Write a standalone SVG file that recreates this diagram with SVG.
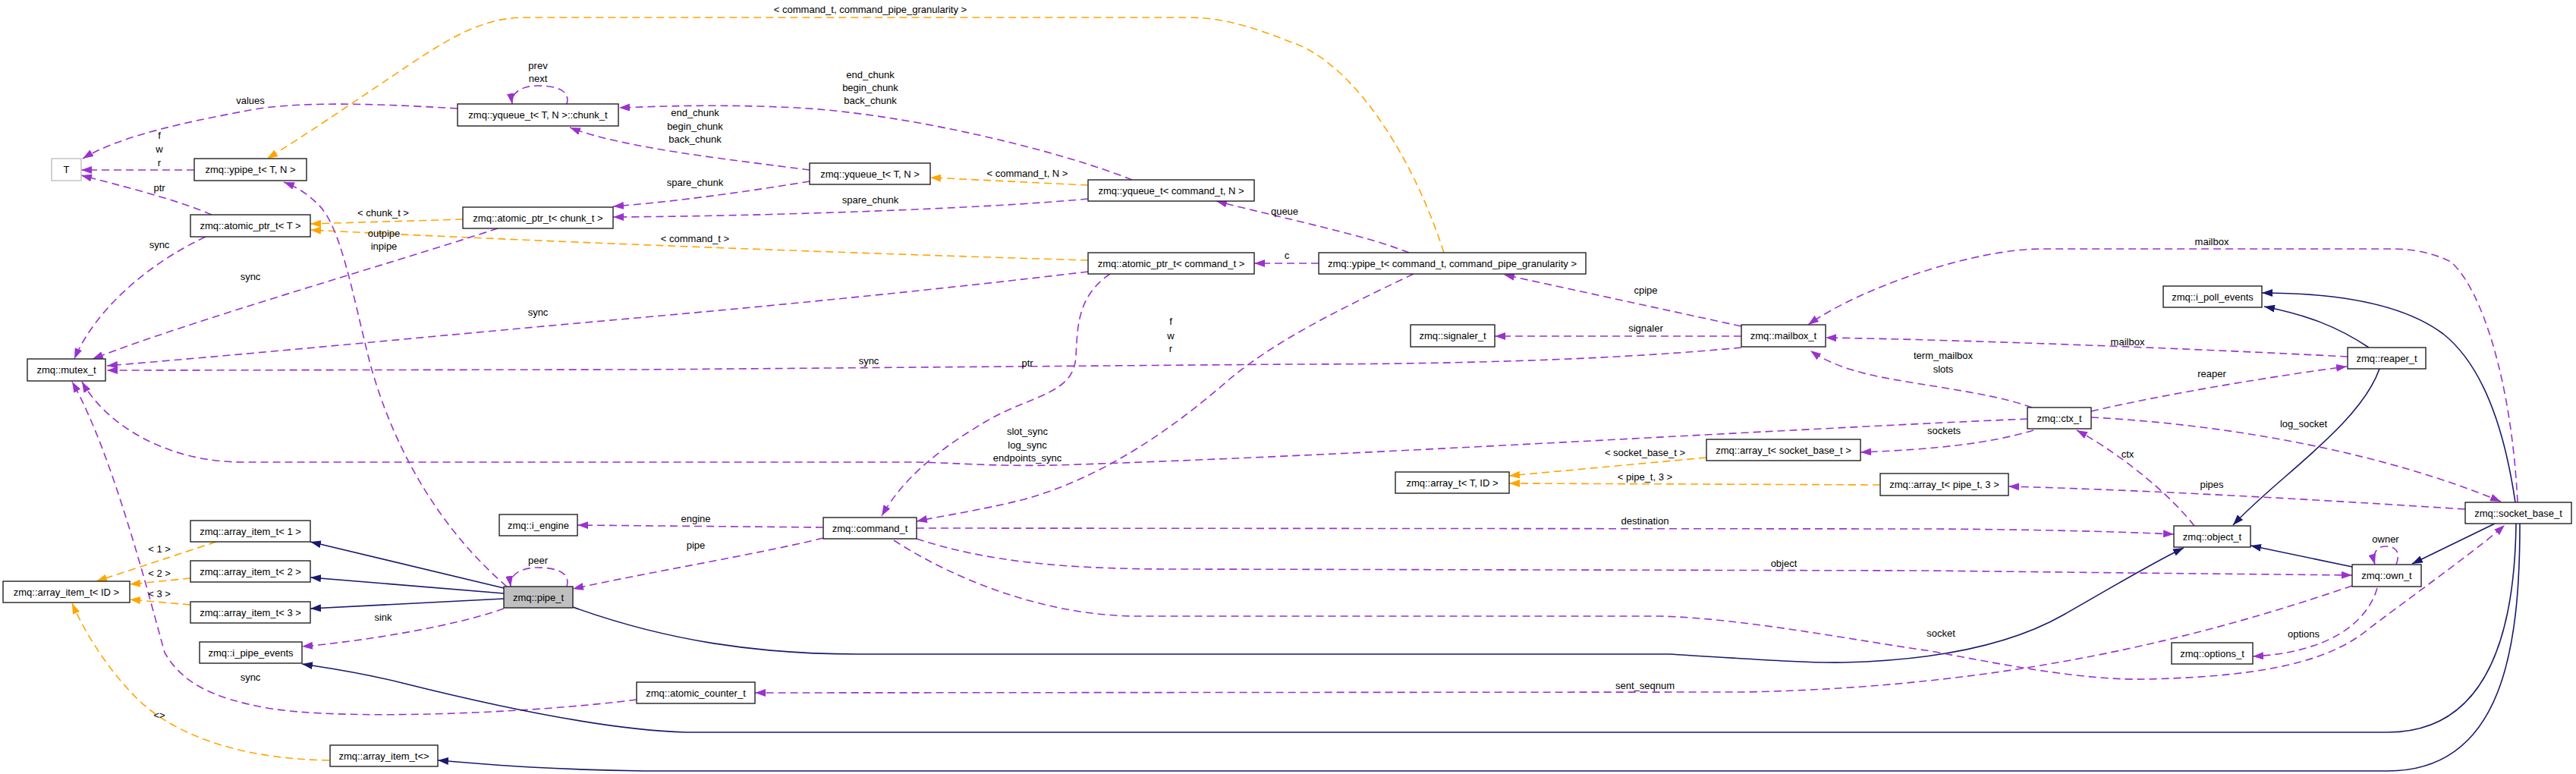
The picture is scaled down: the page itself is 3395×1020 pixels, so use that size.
<svg xmlns="http://www.w3.org/2000/svg" width="3395" height="1020" viewBox="0 0 3395 1020">
<defs>
<marker id="ap" markerUnits="userSpaceOnUse" markerWidth="14" markerHeight="10" refX="14" refY="5" orient="auto"><path d="M0,0 L14,5 L0,10 z" fill="#9a32cd"/></marker>
<marker id="ao" markerUnits="userSpaceOnUse" markerWidth="14" markerHeight="10" refX="14" refY="5" orient="auto"><path d="M0,0 L14,5 L0,10 z" fill="#ffa500"/></marker>
<marker id="ab" markerUnits="userSpaceOnUse" markerWidth="14" markerHeight="10" refX="14" refY="5" orient="auto"><path d="M0,0 L14,5 L0,10 z" fill="#191970"/></marker>
<style>
text{font-family:"Liberation Sans",Arial,sans-serif;font-size:13px;text-anchor:middle;fill:#000}
.n rect{fill:#fff;stroke:#222;stroke-width:1.4}
.p{fill:none;stroke:#9a32cd;stroke-width:1.6;stroke-dasharray:10,6;marker-end:url(#ap)}
.o{fill:none;stroke:#ffa500;stroke-width:1.6;stroke-dasharray:10,6;marker-end:url(#ao)}
.b{fill:none;stroke:#191970;stroke-width:1.6;marker-end:url(#ab)}
</style>
</defs>
<rect width="3395" height="1020" fill="#fff"/>
<g id="connectors">
<path class="p" d="M603,143 C520,138 400,132 330,145 C250,160 160,178 109,209"/>
<text x="330" y="137">values</text>
<path class="p" d="M256,224 L107,224"/>
<text x="210" y="183">f</text><text x="210" y="201">w</text><text x="210" y="219">r</text>
<path class="p" d="M279,283 C230,262 160,245 107,231"/>
<text x="210" y="252">ptr</text>
<path class="p" d="M747,137 C752,120 735,113 709,113 C685,113 673,124 675,137"/>
<text x="709" y="91">prev</text><text x="709" y="108">next</text>
<path class="o" d="M1903,333 C1860,200 1780,80 1700,55 C1650,35 1610,23 1566,23 L694,23 C640,23 600,45 540,85 S400,180 352,209"/>
<text x="1147" y="17">&lt; command_t, command_pipe_granularity &gt;</text>
<path class="p" d="M1067,224 C960,210 820,195 751,168"/>
<text x="916" y="153">end_chunk</text><text x="916" y="171">begin_chunk</text><text x="916" y="188">back_chunk</text>
<path class="p" d="M1492,237 C1400,200 1200,150 1050,142 C950,137 870,140 816,142"/>
<text x="1147" y="103">end_chunk</text><text x="1147" y="120">begin_chunk</text><text x="1147" y="137">back_chunk</text>
<path class="p" d="M1067,239 C1000,250 900,265 808,272"/>
<text x="916" y="245">spare_chunk</text>
<path class="p" d="M1434,262 C1300,275 1000,285 808,286"/>
<text x="1147" y="268">spare_chunk</text>
<path class="o" d="M1434,244 L1226,234"/>
<text x="1354" y="233">&lt; command_t, N &gt;</text>
<path class="o" d="M610,289 L409,295"/>
<text x="505" y="285">&lt; chunk_t &gt;</text>
<path class="o" d="M1434,343 C1100,333 700,318 409,303"/>
<text x="916" y="319">&lt; command_t &gt;</text>
<path class="p" d="M271,312 C180,355 120,420 98,473"/>
<text x="210" y="327">sync</text>
<path class="p" d="M656,301 C500,352 260,420 122,473"/>
<text x="330" y="369">sync</text>
<path class="p" d="M1434,358 C1250,380 1050,400 850,418 C600,440 350,465 141,482"/>
<text x="709" y="416">sync</text>
<path class="p" d="M2295,458 C2150,472 1950,480 1700,480 L850,487 L141,488"/>
<text x="1145" y="480">sync</text>
<path class="p" d="M1463,361 C1420,390 1420,430 1418,470 C1415,520 1360,520 1300,555 C1240,590 1190,630 1162,680"/>
<text x="1354" y="483">ptr</text>
<path class="p" d="M1863,361 C1760,410 1680,450 1620,500 C1540,570 1450,630 1350,658 C1290,673 1240,680 1208,687"/>
<text x="1543" y="428">f</text><text x="1543" y="447">w</text><text x="1543" y="464">r</text>
<path class="p" d="M2672,552 C2300,568 1800,600 1392,613 C1300,615 1250,609 1200,609 L320,609 C220,609 140,560 108,503"/>
<text x="1354" y="573">slot_sync</text><text x="1354" y="591">log_sync</text><text x="1354" y="608">endpoints_sync</text>
<path class="p" d="M839,922 C700,940 450,950 352,933 C280,920 240,900 217,860 C200,800 150,600 95,503"/>
<text x="330" y="897">sync</text>
<path class="p" d="M668,773 C560,680 510,560 488,480 C465,390 450,300 420,270 C405,255 390,246 374,240"/>
<text x="506" y="312">outpipe</text><text x="506" y="329">inpipe</text>
<path class="p" d="M747,773 C752,755 735,748 708,748 C685,748 671,758 673,773"/>
<text x="709" y="743">peer</text>
<path class="b" d="M664,775 L409,714"/>
<path class="b" d="M664,782 L409,761"/>
<path class="b" d="M664,789 L409,802"/>
<path class="p" d="M664,802 C600,825 480,845 398,852"/>
<text x="505" y="818">sink</text>
<path class="p" d="M1085,709 C1000,730 850,755 755,776"/>
<text x="917" y="723">pipe</text>
<path class="p" d="M1085,695 L761,692"/>
<text x="917" y="688">engine</text>
<path class="b" d="M755,800 C880,845 1000,862 1130,862 L2200,862 C2300,868 2380,874 2430,873 C2550,870 2650,850 2720,810 C2790,770 2840,740 2878,722"/>
<path class="p" d="M1208,696 L2550,697 C2700,698 2800,701 2865,704"/>
<text x="2168" y="691">destination</text>
<path class="p" d="M1208,710 C1300,740 1400,750 1550,750 L2540,752 C2800,755 3000,757 3100,758"/>
<text x="2351" y="747">object</text>
<path class="p" d="M1178,712 C1260,765 1380,812 1500,812 L2188,812 C2300,815 2450,845 2545,858 C2650,878 2750,897 2830,895 C2950,892 3060,880 3120,830 C3200,770 3270,720 3301,692"/>
<text x="2558" y="839">socket</text>
<path class="p" d="M3100,772 C2900,840 2650,905 2300,912 L995,913"/>
<text x="2168" y="908">sent_seqnum</text>
<path class="p" d="M3133,775 C3120,820 3070,860 2969,865"/>
<text x="3036" y="840">options</text>
<path class="p" d="M3158,744 C3165,725 3155,720 3144,720 C3132,720 3126,730 3130,744"/>
<text x="3144" y="715">owner</text>
<path class="b" d="M3100,747 L2966,719"/>
<path class="b" d="M3288,690 L3179,743"/>
<path class="b" d="M3136,486 C3110,560 3000,630 2943,692"/>
<path class="b" d="M3122,458 C3080,430 3040,415 2984,404"/>
<path class="b" d="M3315,662 C3300,560 3270,480 3220,440 C3160,395 3060,386 2981,386"/>
<path class="p" d="M3318,662 C3310,500 3270,380 3230,345 C3200,330 3170,328 3152,328 L2691,328 C2600,328 2450,380 2383,428"/>
<text x="2915" y="323">mailbox</text>
<path class="p" d="M3094,470 C2900,460 2600,448 2406,445"/>
<text x="2804" y="455">mailbox</text>
<path class="p" d="M2678,537 C2620,515 2500,505 2450,490 C2420,482 2400,472 2386,462"/>
<text x="2561" y="473">term_mailbox</text><text x="2561" y="491">slots</text>
<path class="p" d="M2756,542 C2850,520 3000,495 3093,483"/>
<text x="2915" y="497">reaper</text>
<path class="p" d="M2680,567 C2620,585 2550,592 2452,596"/>
<text x="2562" y="572">sockets</text>
<path class="p" d="M2892,693 C2850,640 2780,590 2737,567"/>
<text x="2804" y="603">ctx</text>
<path class="p" d="M2756,550 C2950,560 3150,600 3296,661"/>
<text x="3036" y="563">log_socket</text>
<path class="p" d="M3249,671 C3000,655 2800,645 2647,641"/>
<text x="2915" y="643">pipes</text>
<path class="o" d="M2249,603 L1989,627"/>
<text x="2168" y="601">&lt; socket_base_t &gt;</text>
<path class="o" d="M2478,639 L1989,637"/>
<text x="2168" y="633">&lt; pipe_t, 3 &gt;</text>
<path class="o" d="M285,714 L127,766"/>
<text x="210" y="728">&lt; 1 &gt;</text>
<path class="o" d="M251,762 L171,770"/>
<text x="210" y="760">&lt; 2 &gt;</text>
<path class="o" d="M251,797 L171,790"/>
<text x="210" y="787">&lt; 3 &gt;</text>
<path class="o" d="M434,1002 C300,1000 220,960 180,920 C140,880 110,830 95,795"/>
<text x="210" y="947">&lt;&gt;</text>
<path class="b" d="M3321,690 C3321,850 3300,1016 3147,1016 L850,1016 C700,1014 620,1005 577,1002"/>
<path class="b" d="M3316,690 C3314,850 3270,965 3147,965 L904,965 C800,962 650,930 530,900 C470,885 430,880 398,875"/>
<path class="p" d="M1738,347 L1653,347"/>
<text x="1696" y="341">c</text>
<path class="p" d="M1857,333 C1800,310 1700,290 1603,265"/>
<text x="1693" y="283">queue</text>
<path class="p" d="M2295,430 L1982,362"/>
<text x="2169" y="387">cpipe</text>
<path class="p" d="M2295,443 L1970,443"/>
<text x="2169" y="437">signaler</text>
</g>
<g id="T" class="n"><rect x="68" y="209" width="39" height="29" style="stroke:#bfbfbf"/><text x="87.5" y="228">T</text></g>
<g id="ypipe_T_N" class="n"><rect x="256" y="209" width="148" height="29"/><text x="330" y="228">zmq::ypipe_t&lt; T, N &gt;</text></g>
<g id="chunk_t" class="n"><rect x="603" y="137" width="212" height="29"/><text x="709" y="156">zmq::yqueue_t&lt; T, N &gt;::chunk_t</text></g>
<g id="atomic_ptr_T" class="n"><rect x="251" y="283" width="158" height="29"/><text x="330" y="302">zmq::atomic_ptr_t&lt; T &gt;</text></g>
<g id="atomic_ptr_chunk" class="n"><rect x="610" y="273" width="198" height="28"/><text x="709" y="291.5">zmq::atomic_ptr_t&lt; chunk_t &gt;</text></g>
<g id="mutex_t" class="n"><rect x="36" y="473" width="103" height="29"/><text x="87.5" y="492">zmq::mutex_t</text></g>
<g id="yqueue_T_N" class="n"><rect x="1067" y="215" width="159" height="28"/><text x="1146.5" y="233.5">zmq::yqueue_t&lt; T, N &gt;</text></g>
<g id="yqueue_cmd" class="n"><rect x="1434" y="237" width="219" height="28"/><text x="1543.5" y="255.5">zmq::yqueue_t&lt; command_t, N &gt;</text></g>
<g id="atomic_ptr_cmd" class="n"><rect x="1434" y="333" width="219" height="28"/><text x="1543.5" y="351.5">zmq::atomic_ptr_t&lt; command_t &gt;</text></g>
<g id="ypipe_cmd" class="n"><rect x="1738" y="333" width="352" height="28"/><text x="1914" y="351.5">zmq::ypipe_t&lt; command_t, command_pipe_granularity &gt;</text></g>
<g id="signaler_t" class="n"><rect x="1859" y="428" width="111" height="29"/><text x="1914.5" y="447">zmq::signaler_t</text></g>
<g id="mailbox_t" class="n"><rect x="2295" y="428" width="111" height="29"/><text x="2350.5" y="447">zmq::mailbox_t</text></g>
<g id="i_poll_events" class="n"><rect x="2851" y="377" width="130" height="28"/><text x="2916" y="395.5">zmq::i_poll_events</text></g>
<g id="reaper_t" class="n"><rect x="3094" y="458" width="103" height="28"/><text x="3145.5" y="476.5">zmq::reaper_t</text></g>
<g id="array_item_1" class="n"><rect x="251" y="686" width="158" height="28"/><text x="330" y="704.5">zmq::array_item_t&lt; 1 &gt;</text></g>
<g id="array_item_2" class="n"><rect x="251" y="739" width="158" height="28"/><text x="330" y="757.5">zmq::array_item_t&lt; 2 &gt;</text></g>
<g id="array_item_3" class="n"><rect x="251" y="793" width="158" height="28"/><text x="330" y="811.5">zmq::array_item_t&lt; 3 &gt;</text></g>
<g id="array_item_ID" class="n"><rect x="4" y="766" width="167" height="28"/><text x="87.5" y="784.5">zmq::array_item_t&lt; ID &gt;</text></g>
<g id="i_engine" class="n"><rect x="658" y="678" width="103" height="28"/><text x="709.5" y="696.5">zmq::i_engine</text></g>
<g id="pipe_t" class="n"><rect x="664" y="773" width="91" height="28" style="fill:#bfbfbf"/><text x="709.5" y="791.5">zmq::pipe_t</text></g>
<g id="i_pipe_events" class="n"><rect x="263" y="846" width="135" height="28"/><text x="330.5" y="864.5">zmq::i_pipe_events</text></g>
<g id="array_item_empty" class="n"><rect x="435" y="982" width="142" height="28"/><text x="506" y="1000.5">zmq::array_item_t&lt;&gt;</text></g>
<g id="atomic_counter_t" class="n"><rect x="839" y="899" width="156" height="28"/><text x="917" y="917.5">zmq::atomic_counter_t</text></g>
<g id="command_t" class="n"><rect x="1085" y="682" width="123" height="28"/><text x="1146.5" y="700.5">zmq::command_t</text></g>
<g id="array_socket_base" class="n"><rect x="2249" y="579" width="203" height="28"/><text x="2350.5" y="597.5">zmq::array_t&lt; socket_base_t &gt;</text></g>
<g id="array_T_ID" class="n"><rect x="1839" y="622" width="150" height="28"/><text x="1914" y="640.5">zmq::array_t&lt; T, ID &gt;</text></g>
<g id="array_pipe" class="n"><rect x="2478" y="624" width="169" height="29"/><text x="2562.5" y="643">zmq::array_t&lt; pipe_t, 3 &gt;</text></g>
<g id="ctx_t" class="n"><rect x="2672" y="537" width="84" height="28"/><text x="2714" y="555.5">zmq::ctx_t</text></g>
<g id="object_t" class="n"><rect x="2865" y="693" width="101" height="28"/><text x="2915.5" y="711.5">zmq::object_t</text></g>
<g id="own_t" class="n"><rect x="3100" y="744" width="91" height="29"/><text x="3145.5" y="763">zmq::own_t</text></g>
<g id="socket_base_t" class="n"><rect x="3249" y="662" width="140" height="28"/><text x="3319" y="680.5">zmq::socket_base_t</text></g>
<g id="options_t" class="n"><rect x="2862" y="847" width="107" height="28"/><text x="2915.5" y="865.5">zmq::options_t</text></g>
</svg>
